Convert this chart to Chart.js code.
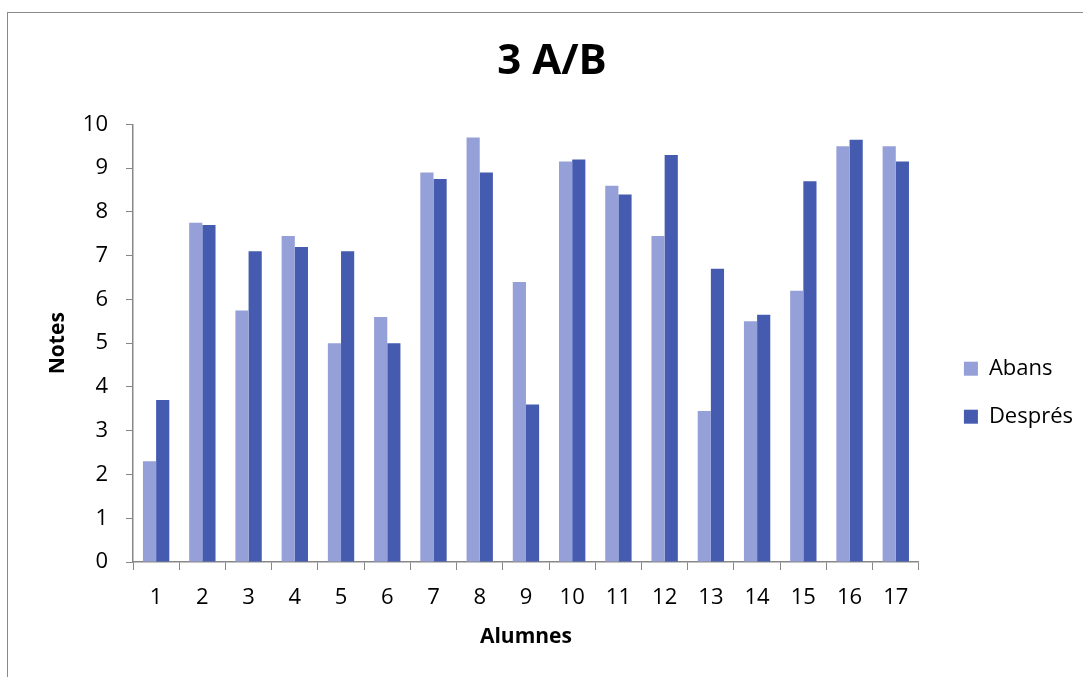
<!DOCTYPE html>
<html>
<head>
<meta charset="utf-8">
<script src="https://cdn.jsdelivr.net/npm/chart.js@4/dist/chart.umd.min.js"></script>
<style>
  body { margin: 0; overflow: hidden; background: #fff; }
  #wrap { position: relative; width: 1083px; height: 677px; }
  #frame { position: absolute; left: 7px; top: 12px; width: 2000px; height: 2000px;
           border-left: 1.5px solid #898989; border-top: 1.5px solid #898989; }
  canvas { position: absolute; left: 0; top: 0; }
</style>
</head>
<body>
<div id="wrap">
  <div id="frame"></div>
  <canvas id="grafic" width="1083" height="677"></canvas>
</div>
<script>
const alumnes = ['1', '2', '3', '4', '5', '6', '7', '8', '9', '10', '11', '12', '13', '14', '15', '16', '17'];
const abans = [2.3, 7.75, 5.75, 7.45, 5.0, 5.6, 8.9, 9.7, 6.4, 9.15, 8.6, 7.45, 3.45, 5.5, 6.2, 9.5, 9.5];
const despres = [3.7, 7.7, 7.1, 7.2, 7.1, 5.0, 8.75, 8.9, 3.6, 9.2, 8.4, 9.3, 6.7, 5.65, 8.7, 9.65, 9.15];

Chart.defaults.font.family = "'Open Sans', sans-serif";
Chart.defaults.color = '#000';

const eixGris = '#878787';

const data = {
    labels: alumnes,
    datasets: [{
        label: 'Abans',
        backgroundColor: 'rgb(149, 159, 216)',
        data: abans,
        categoryPercentage: 0.57,
        barPercentage: 1.0
    }, {
        label: 'Després',
        backgroundColor: 'rgb(68, 91, 176)',
        data: despres,
        categoryPercentage: 0.57,
        barPercentage: 1.0
    }]
};

const config = {
    type: 'bar',
    data: data,
    options: {
        responsive: false,
        animation: false,
        layout: { padding: { left: 21, right: 0, top: 0, bottom: 0 } },
        plugins: {
            title: {
                display: true,
                text: '3 A/B',
                font: { size: 42, weight: 'bold' },
                padding: { top: 37, bottom: 37 }
            },
            legend: {
                position: 'right',
                title: { display: true, text: '', padding: { top: 94, bottom: 0 } },
                labels: {
                    boxWidth: 14,
                    boxHeight: 14,
                    padding: 26,
                    font: { size: 22 }
                }
            },
            tooltip: { enabled: false }
        },
        scales: {
            x: {
                grid: { drawOnChartArea: false, tickLength: 8, color: eixGris, offset: true },
                border: { color: eixGris, width: 1.5 },
                ticks: { font: { size: 22 }, padding: 15, maxRotation: 0 },
                title: {
                    display: true,
                    text: 'Alumnes',
                    font: { size: 21, weight: 'bold' },
                    padding: { top: 0, bottom: 27 }
                },
                afterFit: function (s) { s.height = 115; }
            },
            y: {
                min: 0,
                max: 10,
                ticks: { stepSize: 1, font: { size: 22 }, padding: 18 },
                grid: { drawOnChartArea: false, tickLength: 7, color: eixGris },
                border: { color: eixGris, width: 1.5 },
                title: {
                    display: true,
                    text: 'Notes',
                    font: { size: 21, weight: 'bold' },
                    padding: { top: 24, bottom: 0 }
                },
                afterFit: function (s) { s.width = 112; }
            },
            buit: {
                position: 'right',
                display: true,
                grid: { display: false },
                border: { display: false },
                ticks: { display: false },
                afterFit: function (s) { s.width = 19; }
            }
        }
    }
};

const grafic = new Chart(document.getElementById('grafic'), config);
</script>
</body>
</html>
